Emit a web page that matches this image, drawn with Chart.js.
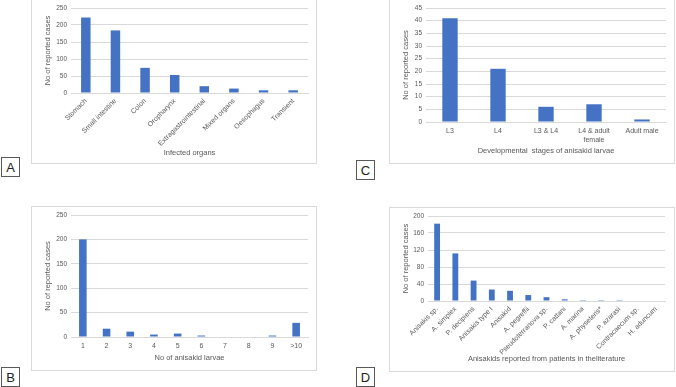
<!DOCTYPE html>
<html>
<head>
<meta charset="utf-8">
<script src="https://cdn.jsdelivr.net/npm/chart.js@4"></script>
<style>
  html, body { margin: 0; padding: 0; background: #fff; }
  body { width: 676px; height: 387px; position: relative; overflow: hidden; font-family: "Liberation Sans", Arial, sans-serif; }
  .panel { position: absolute; border: 1px solid #d9d9d9; box-sizing: border-box; background: #fff; }
  .panel canvas { display: block; }
  .tag { position: absolute; width: 19px; height: 20px; border: 1px solid #595959; box-sizing: border-box;
         font: 13px "Liberation Sans", Arial, sans-serif; color: #222; text-align: center; line-height: 19px; background: #fff; }
</style>
</head>
<body>
<div class="panel" style="left:31px;top:-1px;width:286px;height:165px"><canvas id="chartA"></canvas></div>
<div class="panel" style="left:389px;top:-1px;width:286px;height:165px"><canvas id="chartC"></canvas></div>
<div class="panel" style="left:31px;top:206px;width:286px;height:165px"><canvas id="chartB"></canvas></div>
<div class="panel" style="left:389px;top:207px;width:286px;height:165px"><canvas id="chartD"></canvas></div>
<div class="tag" style="left:1px;top:157px">A</div>
<div class="tag" style="left:356px;top:160px">C</div>
<div class="tag" style="left:1px;top:367px">B</div>
<div class="tag" style="left:356px;top:367px">D</div>

<script>
// A: infected organs
const organLabels = ["Stomach", "Small intestine", "Colon", "Oropharynx", "Extragastrointestinal", "Mixed organs", "Oesophagus", "Transient"];
const organCases = [222, 184, 74, 53, 20, 13, 8, 8];

// B: number of larvae
const larvaeLabels = ["1", "2", "3", "4", "5", "6", "7", "8", "9", ">10"];
const larvaeCases = [200, 17, 11, 5, 7, 3, 0, 1, 3, 29];

// C: developmental stages
const stageLabels = ["L3", "L4", "L3 & L4", ["L4 & adult", "female"], "Adult male"];
const stageCases = [41, 21, 6, 7, 1];

// D: species
const speciesLabels = ["Anisakis sp.", "A. simplex", "P. decipiens", "Anisakis type I", "Anisakid", "A. pegreffii",
    "Pseudoterranova sp.", "P. cattani", "A. marina", "A. physeteris*", "P. azarasi", "Contracaecum sp.", "H. aduncum"];
const speciesCases = [182, 112, 48, 27, 24, 14, 9, 4, 2, 2, 2, 0, 0];

const textColor = "#595959";
const barColor = "#4472C4";
const fontFamily = "'Liberation Sans', Arial, sans-serif";

function makeChart(id, labels, values, opts) {
    const canvas = document.getElementById(id);
    canvas.width = 284;
    canvas.height = 163;
    return new Chart(canvas.getContext("2d"), {
        type: "bar",
        data: {
            labels,
            datasets: [{
                data: values,
                backgroundColor: barColor,
                barPercentage: 0.32,
                categoryPercentage: 1
            }]
        },
        options: {
            responsive: false,
            animation: false,
            layout: { padding: opts.padding },
            plugins: { legend: { display: false }, tooltip: { enabled: false } },
            scales: {
                x: {
                    grid: { display: false, drawTicks: false },
                    border: { display: true, color: "#d9d9d9" },
                    ticks: {
                        color: textColor,
                        font: { family: fontFamily, size: 7 },
                        autoSkip: false,
                        minRotation: opts.rotate ? 45 : 0,
                        maxRotation: opts.rotate ? 45 : 0,
                        padding: opts.rotate ? 4 : 5
                    },
                    title: {
                        display: true,
                        text: opts.xTitle,
                        color: textColor,
                        font: { family: fontFamily, size: 7.5 },
                        padding: { top: 2, bottom: 0 }
                    },
                    afterFit: function (scale) { scale.height = opts.xHeight; }
                },
                y: {
                    min: 0,
                    max: opts.yMax,
                    grid: { color: "#d9d9d9", drawTicks: false },
                    border: { display: false },
                    ticks: {
                        stepSize: opts.yStep,
                        color: textColor,
                        font: { family: fontFamily, size: 6.5 },
                        padding: 4
                    },
                    title: {
                        display: true,
                        text: "No of reported cases",
                        color: textColor,
                        font: { family: fontFamily, size: 7.5 },
                        padding: { top: 0, bottom: 2 }
                    },
                    afterFit: function (scale) { scale.width = opts.yWidth; }
                }
            }
        }
    });
}

makeChart("chartA", organLabels, organCases, {
    padding: { left: 11, right: 8, top: 8, bottom: 6 },
    yWidth: 28, xHeight: 64, yMax: 250, yStep: 50, rotate: true, xTitle: "Infected organs"
});
makeChart("chartB", larvaeLabels, larvaeCases, {
    padding: { left: 11, right: 8, top: 8, bottom: 8 },
    yWidth: 28, xHeight: 25, yMax: 250, yStep: 50, rotate: false, xTitle: "No of anisakid larvae"
});
makeChart("chartC", stageLabels, stageCases, {
    padding: { left: 11, right: 8, top: 8, bottom: 8 },
    yWidth: 25, xHeight: 33, yMax: 45, yStep: 5, rotate: false, xTitle: "Developmental  stages of anisakid larvae"
});
makeChart("chartD", speciesLabels, speciesCases, {
    padding: { left: 11, right: 9, top: 8, bottom: 8 },
    yWidth: 27, xHeight: 62, yMax: 200, yStep: 20, rotate: true, xTitle: "Anisakids reported from patients in theliterature"
});
</script>
</body>
</html>
